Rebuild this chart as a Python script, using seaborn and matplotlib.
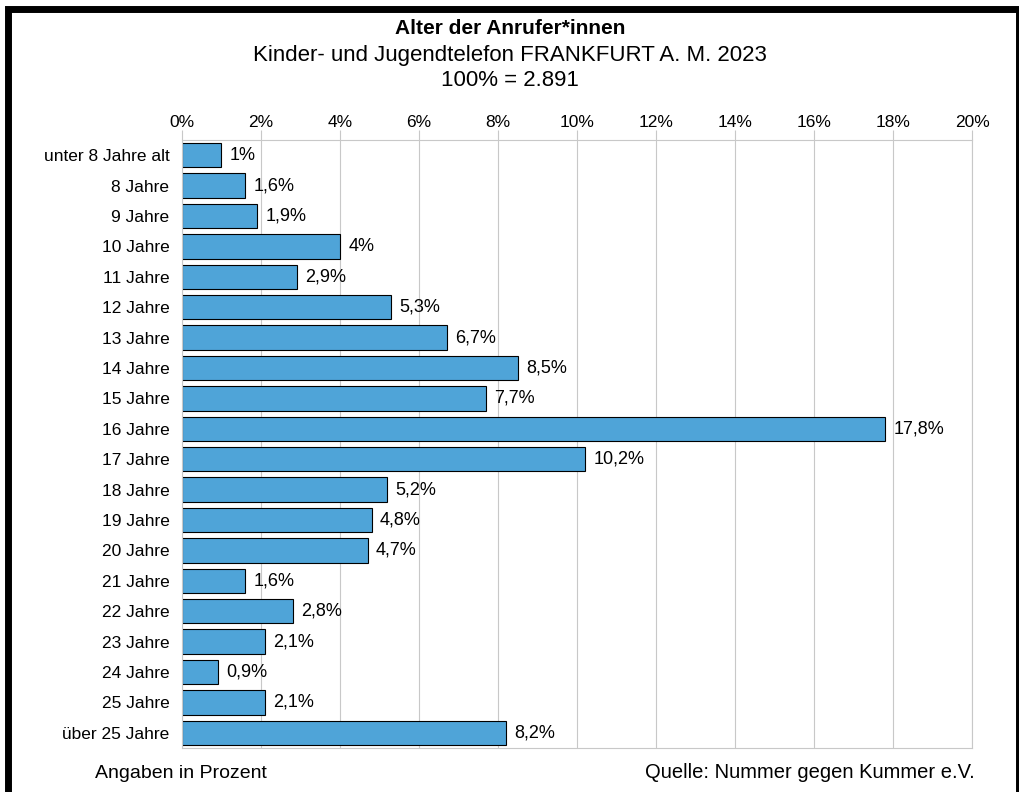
import matplotlib
matplotlib.use("Agg")
import matplotlib.pyplot as plt
import seaborn as sns
import pandas as pd
import numpy as np
from matplotlib.patches import Rectangle

ages = ["unter 8 Jahre alt", "8 Jahre", "9 Jahre", "10 Jahre", "11 Jahre",
        "12 Jahre", "13 Jahre", "14 Jahre", "15 Jahre", "16 Jahre",
        "17 Jahre", "18 Jahre", "19 Jahre", "20 Jahre", "21 Jahre",
        "22 Jahre", "23 Jahre", "24 Jahre", "25 Jahre", "über 25 Jahre"]
percent = [1.0, 1.6, 1.9, 4.0, 2.9, 5.3, 6.7, 8.5, 7.7, 17.8,
           10.2, 5.2, 4.8, 4.7, 1.6, 2.8, 2.1, 0.9, 2.1, 8.2]
xticks = [0, 2, 4, 6, 8, 10, 12, 14, 16, 18, 20]

sns.set_style("white")
plt.rcParams['font.family'] = ['Liberation Sans', 'DejaVu Sans']
plt.rcParams['text.color'] = 'black'
plt.rcParams['xtick.labelcolor'] = 'black'
plt.rcParams['ytick.labelcolor'] = 'black'

df = pd.DataFrame({"age": ages, "pct": percent})

fig = plt.figure(figsize=(10.2, 7.92), dpi=100)
ax = fig.add_axes([182/1020, 1 - 748/792, (972-182)/1020, (748-140)/792])

sns.barplot(data=df, x="pct", y="age", orient="h", color="#4FA4D8",
            saturation=1, width=0.8, edgecolor="black", linewidth=0.8, ax=ax)

labels = [f"{v:g}".replace(".", ",") + "%" for v in percent]
ax.bar_label(ax.containers[0], labels=labels, padding=6, fontsize=13,
             color="black")

ax.set_xlim(0, 20)
ax.set_ylim(len(ages) - 0.5, -0.5)
ax.xaxis.tick_top()
ax.set_xticks(xticks)
ax.set_xticklabels([f"{t}%" for t in xticks], fontsize=12.5)
ax.tick_params(axis="x", length=7, color="#C8C8C8", pad=0.5)
ax.set_xlabel("")
ax.set_ylabel("")
ax.grid(axis="x", color="#C8C8C8", linewidth=0.8)
ax.set_axisbelow(True)

ax.tick_params(axis="y", length=0, pad=9, labelsize=12.5)
ax.set_yticks(np.arange(len(ages) + 1) - 0.5, minor=True)
ax.tick_params(axis="y", which="minor", length=6, color="#333333", width=0.8)

for s in ax.spines.values():
    s.set_color("#C8C8C8")
    s.set_linewidth(0.8)

fig.text(0.5, 1 - 28/792, "Alter der Anrufer*innen", ha="center", va="center",
         fontsize=15, fontweight="bold")
fig.text(0.5, 1 - 55/792, "Kinder- und Jugendtelefon FRANKFURT A. M. 2023",
         ha="center", va="center", fontsize=16)
fig.text(0.5, 1 - 80/792, "100% = 2.891", ha="center", va="center", fontsize=16)

fig.text(95/1020, 1 - 773/792, "Angaben in Prozent", ha="left", va="center", fontsize=14)
fig.text(975/1020, 1 - 773/792, "Quelle: Nummer gegen Kummer e.V.", ha="right",
         va="center", fontsize=14.5)

# frame around the whole picture
fig.add_artist(Rectangle((8.5/1020, -3/792), (1019-8.5)/1020, (783.5+3)/792,
                         transform=fig.transFigure, fill=False,
                         edgecolor="black", linewidth=5))

fig.savefig("out.png", dpi=100)
